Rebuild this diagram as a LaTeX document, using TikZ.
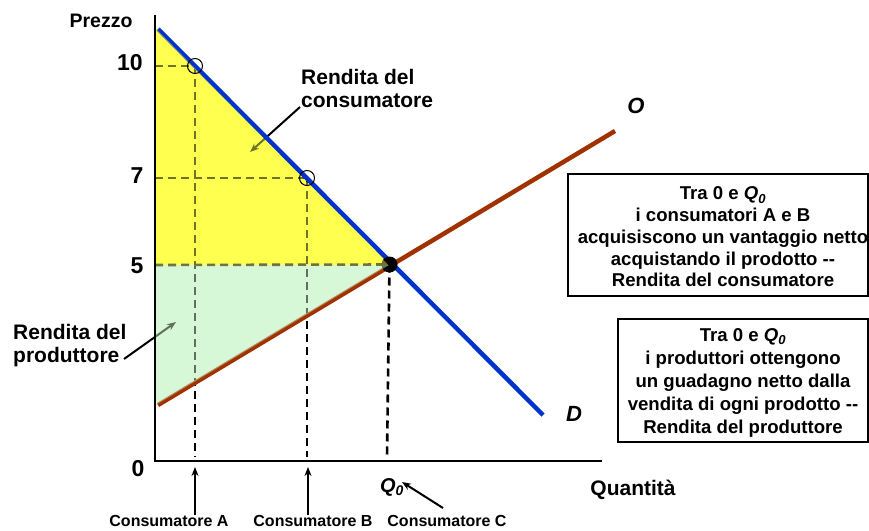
\documentclass[tikz,border=0pt]{standalone}
\usepackage{fontspec}
\setmainfont{Liberation Sans}
\usetikzlibrary{arrows.meta}
\definecolor{dblue}{RGB}{0,51,204}
\definecolor{sbrown}{RGB}{160,50,0}
\definecolor{cyel}{RGB}{255,255,80}
\definecolor{pgreen}{RGB}{214,248,214}
\begin{document}
\begin{tikzpicture}[x=1pt,y=-1pt,
  lbl/.style={font=\bfseries\fontsize{21}{24}\selectfont, inner sep=0pt, align=left},
  tick/.style={font=\bfseries\fontsize{23}{26}\selectfont, inner sep=0pt},
  small/.style={font=\bfseries\fontsize{16}{18}\selectfont, inner sep=0pt},
  curvelbl/.style={font=\bfseries\itshape\fontsize{22}{26}\selectfont, inner sep=0pt},
  infotext/.style={inner sep=0pt, align=center, font=\bfseries\fontsize{18.6}{21.75}\selectfont},
  frame/.style={line width=1.2pt},
  guide/.style={dashed, dash pattern=on 8pt off 5pt, line width=2.6pt},
  pointer/.style={line width=2pt, -{Stealth[length=9pt,width=7pt]}},
  axis/.style={line width=2.5pt},
  curve/.style={line width=4.5pt}]
\useasboundingbox (0,0) rectangle (869,530);

% key points
\coordinate (O) at (155,461);
\coordinate (ytop) at (155,15);
\coordinate (xend) at (602,461);
\coordinate (dstart) at (158,29);
\coordinate (dend) at (543,415);
\coordinate (sstart) at (158,405);
\coordinate (send) at (615,131);
\coordinate (E) at (389.5,264.5);
\coordinate (pA) at (195,66);
\coordinate (pB) at (307,178);
\coordinate (y10) at (155,66);
\coordinate (y7) at (155,178);
\coordinate (y5) at (155,265);
\coordinate (qA) at (195,457);
\coordinate (qB) at (307,457);
\coordinate (qC) at (387,457);

% base shading
\fill[cyel] (155,27) -- (390,265) -- (y5) -- cycle;
\fill[pgreen] (y5) -- (390,265) -- (155,407) -- cycle;

% guides
\draw[guide] (y10) -- (pA);
\draw[guide] (y7) -- (pB);
\draw[guide] (y5) -- (E);
\draw[guide] (pA) -- (qA);
\draw[guide] (pB) -- (qB);
\draw[guide] (E) -- (qC);

% labels with pointers
\node[lbl, anchor=west] (rc) at (301,77) {Rendita del};
\node[lbl, anchor=west] (rc2) at (301,101) {consumatore};
\coordinate (rcs) at (300,107);
\coordinate (rct) at (250,152);
\draw[pointer] (rcs) -- (rct);

\node[lbl, anchor=west] (rp) at (13,332) {Rendita del};
\node[lbl, anchor=west] (rp2) at (13,357) {produttore};
\coordinate (rps) at (124,359);
\coordinate (rpt) at (176,322);
\draw[pointer] (rps) -- (rpt);

% curves and equilibrium point
\draw[curve, dblue] (dstart) -- (dend);
\draw[curve, sbrown] (sstart) -- (send);
\fill (E) circle (8);

% overlay shading (tints what lies beneath)
\fill[cyel, opacity=0.45] (155,27.7) -- (388.3,265) -- (155,265) -- cycle;
\fill[pgreen, opacity=0.45] (155,265) -- (389,265) -- (155,405.4) -- cycle;

% points
\draw[line width=1pt] (pA) circle (7.5);
\draw[line width=1pt] (pB) circle (7.5);

% axes
\draw[axis] (ytop) -- (O) -- (xend);

% axis labels
\node[font=\bfseries\fontsize{19.5}{22}\selectfont, inner sep=0pt] (prezzo) at (101,21) {Prezzo};
\node[tick] (t10) at (130,63) {10};
\node[tick] (t7) at (137,176) {7};
\node[tick] (t5) at (137,266) {5};
\node[tick] (t0) at (138,469) {0};
\node[font=\bfseries\fontsize{21}{24}\selectfont, inner sep=0pt] (quant) at (633,490) {Quantità};

\node[curvelbl] (Olab) at (636,106) {O};
\node[curvelbl] (Dlab) at (574,414) {D};

% Q0 and consumers
\node[font=\bfseries\itshape\fontsize{20}{24}\selectfont, inner sep=0pt] (q0) at (392,487) {Q\textsubscript{0}};
\coordinate (q0s) at (443,508);
\coordinate (q0t) at (402,482);
\draw[pointer] (q0s) -- (q0t);

\node[small] (cA) at (169,521) {Consumatore A};
\node[small] (cB) at (313,521) {Consumatore B};
\node[small] (cC) at (447,521) {Consumatore C};
\coordinate (aAs) at (195,515);
\coordinate (aAt) at (195,467);
\coordinate (aBs) at (308,515);
\coordinate (aBt) at (308,467);
\draw[pointer] (aAs) -- (aAt);
\draw[pointer] (aBs) -- (aBt);

% info boxes
\draw[frame] (568,174) rectangle (868,296);
\node[infotext] (box1) at (723,237)
  {Tra 0 e \textit{Q\textsubscript{0}}\\ i consumatori A e B\\ acquisiscono un vantaggio netto\\ acquistando il prodotto -{}-\\ Rendita del consumatore};
\draw[frame] (618,319) rectangle (868,442);
\node[infotext, font=\bfseries\fontsize{18.6}{23}\selectfont] (box2) at (743,383)
  {Tra 0 e \textit{Q\textsubscript{0}}\\ i produttori ottengono\\ un guadagno netto dalla\\ vendita di ogni prodotto -{}-\\ Rendita del produttore};
\end{tikzpicture}
\end{document}
